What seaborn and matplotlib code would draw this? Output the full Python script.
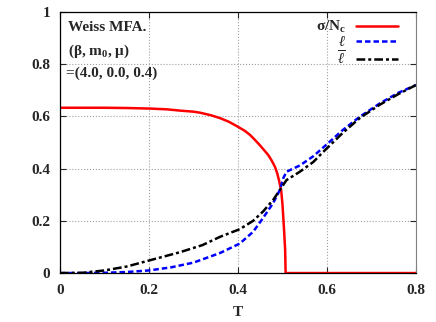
import numpy as np
import matplotlib
matplotlib.use("Agg")
import matplotlib.pyplot as plt
import seaborn as sns
import pandas as pd

# order parameter sigma/N_c
t_sigma = [0.0, 0.1, 0.15, 0.2, 0.24, 0.27, 0.3, 0.315, 0.34, 0.36, 0.38, 0.397,
           0.415, 0.427, 0.438, 0.449, 0.458, 0.468, 0.476, 0.483, 0.488, 0.492,
           0.497, 0.5, 0.503, 0.506, 0.507, 0.6, 0.8]
sigma = [0.633, 0.633, 0.632, 0.630, 0.627, 0.622, 0.618, 0.614, 0.604, 0.593,
         0.579, 0.563, 0.545, 0.529, 0.51, 0.49, 0.472, 0.452, 0.43, 0.407,
         0.383, 0.356, 0.318, 0.262, 0.18, 0.088, 0.0, 0.0, 0.0]

# Polyakov loop l
t_l = [0.0, 0.05, 0.1, 0.15, 0.2, 0.25, 0.3, 0.36, 0.404, 0.434, 0.456, 0.479,
       0.494, 0.502, 0.509, 0.539, 0.569, 0.599, 0.635, 0.674, 0.719, 0.76, 0.8]
ell = [0.0, 0.0, 0.001, 0.004, 0.01, 0.022, 0.04, 0.077, 0.113, 0.158, 0.21,
       0.268, 0.318, 0.364, 0.388, 0.412, 0.447, 0.492, 0.547, 0.599, 0.65,
       0.69, 0.72]

# conjugate Polyakov loop lbar
t_lbar = [0.0, 0.05, 0.1, 0.15, 0.2, 0.27, 0.32, 0.36, 0.404, 0.434, 0.456,
          0.479, 0.494, 0.509, 0.539, 0.569, 0.591, 0.635, 0.674, 0.719, 0.76, 0.8]
ellbar = [0.0, 0.001, 0.01, 0.025, 0.048, 0.08, 0.107, 0.139, 0.168, 0.2,
          0.235, 0.28, 0.318, 0.356, 0.388, 0.425, 0.463, 0.536, 0.594, 0.645,
          0.685, 0.72]

sns.set_style("ticks")
plt.rcParams['font.family'] = ['Liberation Serif', 'DejaVu Serif']
plt.rcParams['font.weight'] = 'bold'
plt.rcParams['mathtext.fontset'] = 'custom'
plt.rcParams['mathtext.rm'] = 'Liberation Serif:bold'
plt.rcParams['mathtext.it'] = 'Liberation Serif:italic:bold'
plt.rcParams['mathtext.bf'] = 'Liberation Serif:bold'

fig = plt.figure(figsize=(4.36, 3.22), dpi=100)
ax = fig.add_axes([0.1376, 0.152, 0.8165, 0.811])

sns.lineplot(x=t_sigma, y=sigma, ax=ax, color="#ff0000", lw=1.8,
             label=r"$\mathrm{\sigma/N_c}$", sort=False)
sns.lineplot(x=t_l, y=ell, ax=ax, color="#0000ff", lw=1.8,
             label=r"$\ell$", sort=False)
sns.lineplot(x=t_lbar, y=ellbar, ax=ax, color="black", lw=1.8,
             label=r"$\overline{\ell}$", sort=False)
ax.lines[1].set_dashes([2.2, 1.2])
ax.lines[2].set_dashes([3.5, 1.2, 1.2, 1.2])

ax.set_xlim(0, 0.8)
ax.set_ylim(0, 1)
ax.set_xticks([0, 0.2, 0.4, 0.6, 0.8])
ax.set_xticklabels(["0", "0.2", "0.4", "0.6", "0.8"])
ax.set_yticks([0, 0.2, 0.4, 0.6, 0.8, 1])
ax.set_yticklabels(["0", "0.2", "0.4", "0.6", "0.8", "1"])
ax.tick_params(direction="in", top=True, right=True, labelsize=11, length=4,
               width=0.8)
ax.tick_params(axis="x", pad=8)
ax.tick_params(axis="y", pad=7)
for lab in ax.get_xticklabels() + ax.get_yticklabels():
    lab.set_fontweight("bold")
ax.grid(True, linestyle=":", color="#a0a0a0", lw=0.8)
for side in ["top", "left", "bottom"]:
    ax.spines[side].set_color("black")
    ax.spines[side].set_linewidth(0.9)
ax.spines["right"].set_color("#808080")
ax.set_xlabel("T", fontsize=11, fontweight="bold", labelpad=6)
ax.set_ylabel("")

leg = ax.legend(loc="upper right", bbox_to_anchor=(0.968, 0.995),
                markerfirst=False, frameon=False, fontsize=11,
                handlelength=2.8, labelspacing=0.0, borderaxespad=0,
                handletextpad=0.65)

ax.text(0.022, 0.967, "Weiss MFA.", transform=ax.transAxes, fontsize=11,
        fontweight="bold", va="top")
ax.text(0.022, 0.882, r"($\mathrm{\beta}$, m$_\mathbf{0}$, $\mathrm{\mu}$)",
        transform=ax.transAxes, fontsize=11, fontweight="bold", va="top")
ax.text(0.018, 0.792, "=(4.0, 0.0, 0.4)", transform=ax.transAxes,
        fontsize=11, fontweight="bold", va="top")

fig.savefig("out.png", dpi=100)
